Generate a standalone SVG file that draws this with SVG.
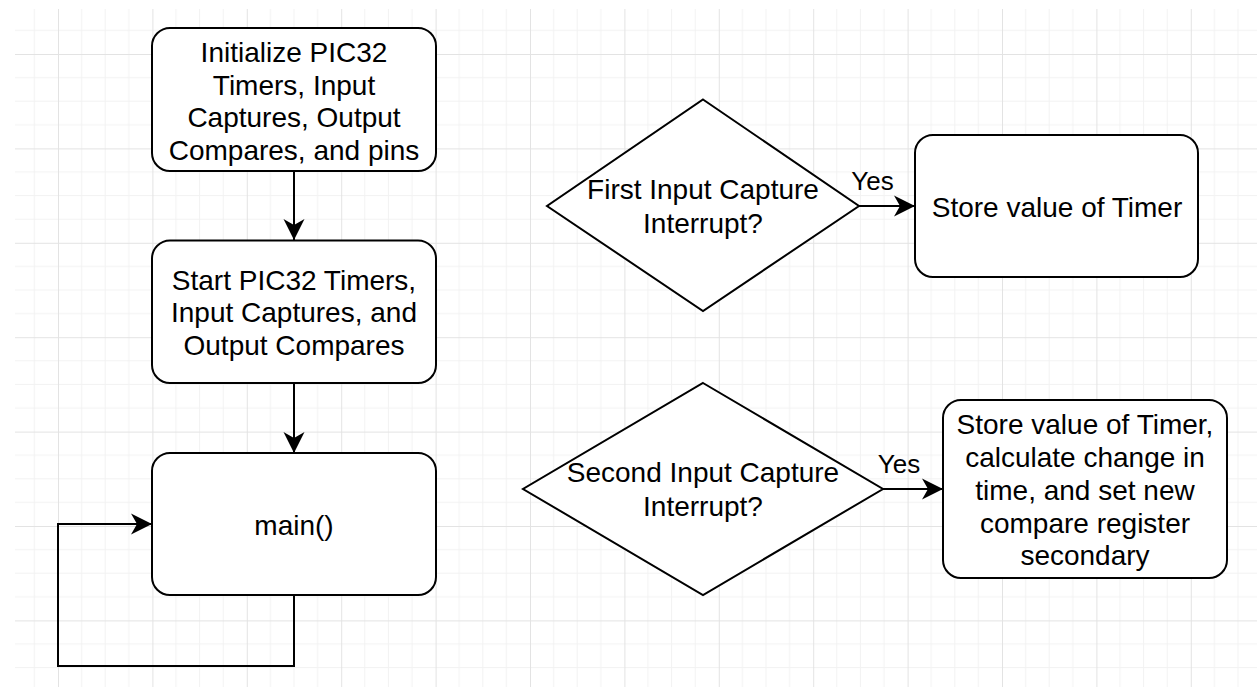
<svg xmlns="http://www.w3.org/2000/svg" width="1257" height="687" viewBox="0 0 1257 687">
  <defs>
    <pattern id="grid" patternUnits="userSpaceOnUse" x="-36.4" y="-40.4" width="94.4" height="94.4">
      <path d="M23.6,0 V94.4 M47.2,0 V94.4 M70.8,0 V94.4 M0,23.6 H94.4 M0,47.2 H94.4 M0,70.8 H94.4" stroke="#f2f2f2" stroke-width="1" fill="none"/>
      <path d="M0.5,0 V94.4 M0,0.5 H94.4" stroke="#e3e3e3" stroke-width="1" fill="none"/>
    </pattern>
    <marker id="arrow" markerUnits="userSpaceOnUse" markerWidth="22" markerHeight="23" refX="21" refY="11" orient="auto">
      <path d="M21,11 L0,0.5 L6,11 L0,21.5 Z" fill="#000"/>
    </marker>
    <style>
      .shape { fill: #fff; stroke: #000; stroke-width: 2; }
      .conn { fill: none; stroke: #000; stroke-width: 2; }
      .lbl { font-family: "Liberation Sans", Arial, sans-serif; font-size: 28px; fill: #000; text-anchor: middle; }
      .yes { font-family: "Liberation Sans", Arial, sans-serif; font-size: 26px; fill: #000; text-anchor: middle; }
    </style>
  </defs>
  <rect x="0" y="0" width="1257" height="687" fill="#fff"/>
  <rect x="15" y="9" width="1242" height="678" fill="url(#grid)"/>

  <g id="connectors">
    <path class="conn" d="M294,171 V240" marker-end="url(#arrow)"/>
    <path class="conn" d="M294,383 V453" marker-end="url(#arrow)"/>
    <path class="conn" d="M294,595 V666 H58 V524 H152" marker-end="url(#arrow)"/>
    <path class="conn" d="M859,206 H915" marker-end="url(#arrow)"/>
    <path class="conn" d="M883,489 H943" marker-end="url(#arrow)"/>
    <text class="yes" x="872.5" y="190">Yes</text>
    <text class="yes" x="899" y="473">Yes</text>
  </g>

  <g id="init">
    <rect class="shape" x="152" y="28" width="284" height="143" rx="18" ry="18"/>
    <text class="lbl" x="294" y="62">Initialize PIC32</text>
    <text class="lbl" x="294" y="94.5">Timers, Input</text>
    <text class="lbl" x="294" y="127">Captures, Output</text>
    <text class="lbl" x="294" y="159.5">Compares, and pins</text>
  </g>

  <g id="start">
    <rect class="shape" x="152" y="240.5" width="284" height="142.5" rx="18" ry="18"/>
    <text class="lbl" x="294" y="289.5">Start PIC32 Timers,</text>
    <text class="lbl" x="294" y="322">Input Captures, and</text>
    <text class="lbl" x="294" y="354.5">Output Compares</text>
  </g>

  <g id="main">
    <rect class="shape" x="152" y="453" width="284" height="142" rx="18" ry="18"/>
    <text class="lbl" x="294" y="535">main()</text>
  </g>

  <g id="first-ic">
    <polygon class="shape" points="703,99.5 859,206 703,311 547,206"/>
    <text class="lbl" x="703" y="198.5">First Input Capture</text>
    <text class="lbl" x="703" y="232.5">Interrupt?</text>
  </g>

  <g id="store1">
    <rect class="shape" x="915" y="135" width="283" height="142" rx="18" ry="18"/>
    <text class="lbl" x="1057" y="217">Store value of Timer</text>
  </g>

  <g id="second-ic">
    <polygon class="shape" points="703,383 883,489 703,595 523,489"/>
    <text class="lbl" x="703" y="481.5">Second Input Capture</text>
    <text class="lbl" x="703" y="516">Interrupt?</text>
  </g>

  <g id="store2">
    <rect class="shape" x="943" y="400" width="284" height="178" rx="18" ry="18"/>
    <text class="lbl" x="1085" y="433.5">Store value of Timer,</text>
    <text class="lbl" x="1085" y="466.5">calculate change in</text>
    <text class="lbl" x="1085" y="499.5">time, and set new</text>
    <text class="lbl" x="1085" y="532.5">compare register</text>
    <text class="lbl" x="1085" y="565">secondary</text>
  </g>
</svg>
